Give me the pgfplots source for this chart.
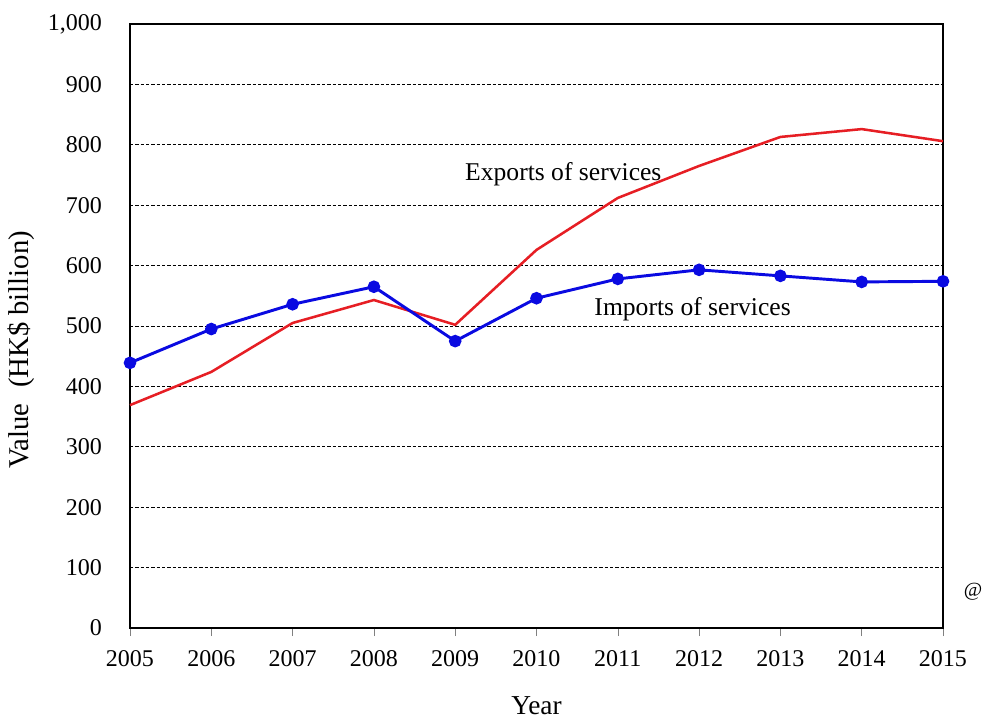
\documentclass[border=0pt]{standalone}
\usepackage{pgfplots}
\pgfplotsset{compat=1.18}
\usepackage{fontspec}
\setmainfont{Liberation Serif}
\definecolor{expred}{RGB}{230,30,36}
\definecolor{impblue}{RGB}{10,10,225}
\begin{document}
\begin{tikzpicture}
\begin{axis}[
  name=ax,
  scale only axis,
  width=609.75pt, height=453pt,
  xmin=2005, xmax=2015, ymin=0, ymax=1000,
  xtick={2005,...,2015},
  ytick={0,100,...,1000},
  /pgf/number format/assume math mode=true,
  xticklabel style={/pgf/number format/1000 sep={}, font=\fontsize{18}{20}\selectfont},
  yticklabel style={/pgf/number format/1000 sep={,}, font=\fontsize{18}{20}\selectfont},
  scaled ticks=false,
  x tick label style={yshift=-7pt},
  y tick label style={xshift=-17.5pt},
  xtick pos=bottom, xtick align=outside,
  major tick length=6pt,
  ytick style={draw=none},
  ymajorgrids,
  grid style={black, dashed, line width=0.6pt, dash pattern=on 2.5pt off 1.5pt},
  axis line style={black, line width=1pt},
  xlabel={Year},
  ylabel={Value\hspace{0.55em}(HK\$ billion)},
  xlabel style={font=\fontsize{20.5}{22}\selectfont, yshift=-16pt},
  ylabel style={font=\fontsize{21.5}{22}\selectfont, yshift=3pt, xshift=-18pt},
  clip=false,
]
\addplot[expred, line width=1.9pt, no markers] coordinates {
(2005,369) (2006,424) (2007,505) (2008,543) (2009,502) (2010,626)
(2011,712) (2012,765) (2013,813) (2014,826) (2015,806)};
\addplot[impblue, line width=2.2pt, mark=*, mark size=3.6pt, mark options={fill=impblue, draw=impblue}] coordinates {
(2005,439) (2006,495) (2007,536) (2008,565) (2009,475) (2010,546)
(2011,578) (2012,593) (2013,583) (2014,573) (2015,574)};
\node[font=\fontsize{19.2}{21}\selectfont] at (axis cs:2010.33,752) {Exports of services};
\node[font=\fontsize{19.2}{21}\selectfont] at (axis cs:2011.92,528) {Imports of services};
\node[font=\fontsize{15}{16}\selectfont] at ([xshift=22.5pt, yshift=27pt]rel axis cs:1,0) {@};
\end{axis}
\path ([xshift=-97.5pt, yshift=-65.25pt]ax.south west) rectangle ([xshift=33pt, yshift=18pt]ax.north east);
\end{tikzpicture}
\end{document}
